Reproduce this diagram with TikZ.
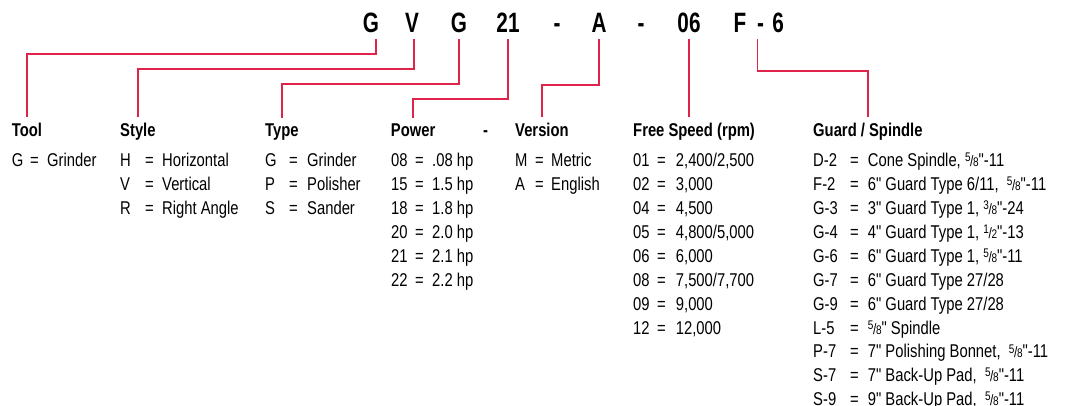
\documentclass[tikz,border=0pt]{standalone}
\usepackage{fontspec}
\setmainfont{Liberation Sans}[FakeStretch=0.8,Ligatures=TeXOff]
\newfontfamily\codefont{Liberation Sans}[FakeStretch=0.74]
\usetikzlibrary{calc}
\definecolor{leadred}{RGB}{222,36,74}
\tikzset{
  lead/.style={leadred,line width=1.4pt,shorten <=6pt,shorten >=6pt},
  entry/.style={anchor=base west,inner sep=0pt,font=\fontsize{18.5}{22}\selectfont},
  head/.style={entry,font=\fontsize{18.5}{22}\selectfont\bfseries},
  code/.style={anchor=base,inner sep=0pt,font=\codefont\fontsize{28}{30}\selectfont\bfseries},
}
\newcommand{\fr}[2]{\raisebox{.5ex}{\fontsize{12.5}{12}\selectfont#1}\kern-.02em{\fontsize{15}{15}\selectfont/}\kern-.02em{\fontsize{12.5}{12}\selectfont#2}}
\def\rowA{166.7}
\def\rowH{23.9}
% one column of the key: name, x of code, x of '=', x of text, list
\newcommand{\keylist}[5]{%
  \foreach \c/\v [count=\i] in {#5}{
    \node[entry] (#1-c\i) at (#2,{\rowA+(\i-1)*\rowH}) {\c};
    \node[entry] (#1-e\i) at (#3,{\rowA+(\i-1)*\rowH}) {=};
    \node[entry] (#1-v\i) at (#4,{\rowA+(\i-1)*\rowH}) {\v};
  }}

\begin{document}
\begin{tikzpicture}[x=1pt,y=-1pt]
  \useasboundingbox (0,0) rectangle (1067,406);

  % MODEL NUMBER
  \node[code] (cG)  at (371,33)   {G};
  \node[code] (cV)  at (412,33)   {V};
  \node[code] (cT)  at (459,33)   {G};
  \node[code] (cP)  at (508,33)   {21};
  \node[code] (cd1) at (557,33)   {-};
  \node[code] (cA)  at (599,33)   {A};
  \node[code] (cd2) at (641,33)   {-};
  \node[code] (cS)  at (689,33)   {06};
  \node[code] (cF)  at (740,33)   {F};
  \node[code] (cFd) at (760.5,33) {-};
  \node[code] (c6)  at (778,33)   {6};

  % HEADINGS
  \node[head] (hTool)  at (11.7,136.7) {Tool};
  \node[head] (hStyle) at (120,136.7)  {Style};
  \node[head] (hType)  at (265,136.7)  {Type};
  \node[head] (hPow)   at (390.7,136.7) {Power};
  \node[head] (hDash)  at (483,136.7)  {-};
  \node[head] (hVer)   at (515,136.7)  {Version};
  \node[head] (hSpeed) at (633,136.7)  {Free Speed (rpm)};
  \node[head] (hGuard) at (813,136.7)  {Guard / Spindle};

  % KNEES
  \coordinate (kTool)  at (0,54);
  \coordinate (kStyle) at (0,69);
  \coordinate (kType)  at (0,84);
  \coordinate (kPow)   at (0,99);
  \coordinate (kVer)   at (0,85);
  \coordinate (kGuard) at (0,71);

  % LEADERS
  \draw[lead] ([xshift=5pt]cG.south) |- (kTool -| hTool.north) -- (hTool.north);
  \draw[lead] ([xshift=2pt]cV.south) |- (kStyle -| hStyle.north) -- (hStyle.north);
  \draw[lead] (cT.south) |- (kType -| hType.north) -- (hType.north);
  \draw[lead] (cP.south) |- (kPow -| hPow.north) -- (hPow.north);
  \draw[lead] (cA.south) |- (kVer -| hVer.north) -- (hVer.north);
  \draw[lead] (cS.south) -- (cS.south |- hSpeed.north);
  \draw[lead] ([xshift=-3pt]cFd.south) |- (kGuard -| hGuard.north) -- (hGuard.north);

  % KEY
  \keylist{tool}{11.7}{30}{47}{G/Grinder}
  \keylist{style}{120}{145}{162}{H/Horizontal, V/Vertical, R/Right Angle}
  \keylist{type}{265}{289}{307}{G/Grinder, P/Polisher, S/Sander}
  \keylist{pow}{391}{415}{432}{08/.08 hp, 15/1.5 hp, 18/1.8 hp, 20/2.0 hp, 21/2.1 hp, 22/2.2 hp}
  \keylist{ver}{515}{535}{551}{M/Metric, A/English}
  \keylist{speed}{633}{657}{675.7}{01/{2,400/2,500}, 02/{3,000}, 04/{4,500}, 05/{4,800/5,000},
    06/{6,000}, 08/{7,500/7,700}, 09/{9,000}, 12/{12,000}}
  \keylist{guard}{813}{850}{867.7}{D-2/{Cone Spindle, \fr58"-11}, F-2/{6" Guard Type 6/11, \ \fr58"-11},
    G-3/{3" Guard Type 1, \fr38"-24}, G-4/{4" Guard Type 1, \fr12"-13}, G-6/{6" Guard Type 1, \fr58"-11},
    G-7/{6" Guard Type 27/28}, G-9/{6" Guard Type 27/28}, L-5/{\fr58" Spindle},
    P-7/{7" Polishing Bonnet, \ \fr58"-11}, S-7/{7" Back-Up Pad, \ \fr58"-11}, S-9/{9" Back-Up Pad, \ \fr58"-11}}
\end{tikzpicture}
\end{document}
